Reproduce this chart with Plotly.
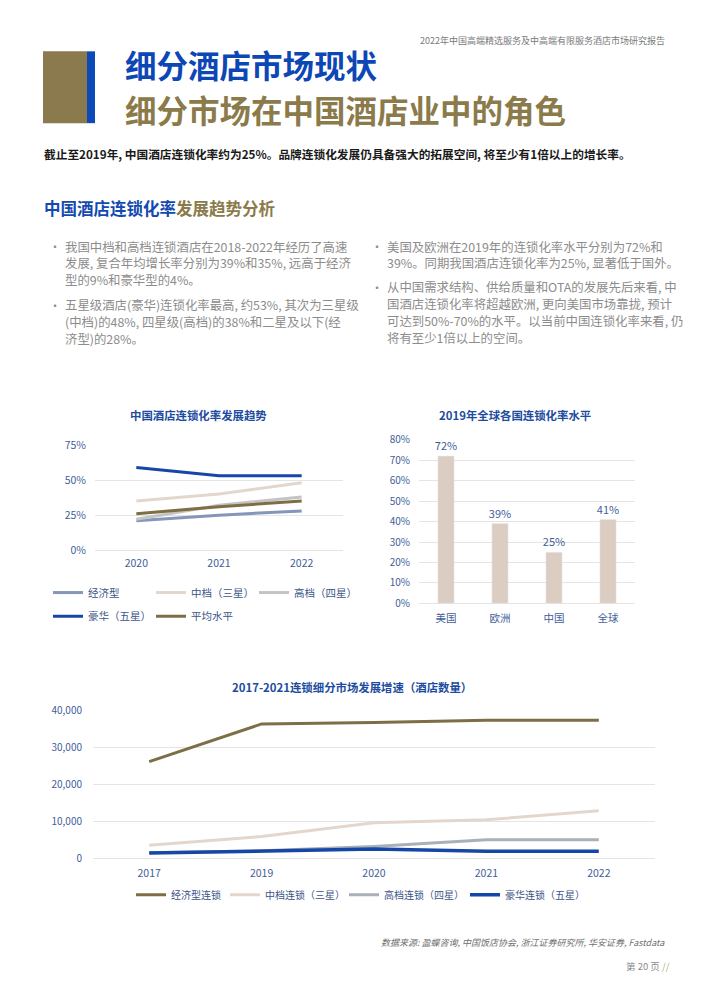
import plotly.graph_objects as go

W, H = 710, 1004


def px(x):
    return x / W


def py(y):
    return 1 - y / H


FONT = "Noto Sans CJK SC"

# ---------------- data ----------------
# Chart 1: 中国酒店连锁化率发展趋势 (%)
years1 = ["2020", "2021", "2022"]
econ1 = [21, 25, 28]
mid1 = [35, 40, 48]
upper1 = [22, 32, 38]
luxury1 = [59, 53, 53]
avg1 = [26, 31, 35]
names1 = ["经济型", "中档（三星）", "高档（四星）", "豪华（五星）", "平均水平"]
ticks1 = [0, 25, 50, 75]

# Chart 2: 2019年全球各国连锁化率水平 (%)
countries = ["美国", "欧洲", "中国", "全球"]
rates2019 = [72, 39, 25, 41]
ticks2 = [0, 10, 20, 30, 40, 50, 60, 70, 80]

# Chart 3: 2017-2021连锁细分市场发展增速（酒店数量）
years3 = ["2017", "2019", "2020", "2021", "2022"]
econ3 = [26200, 36400, 36800, 37400, 37400]
mid3 = [3500, 5900, 9600, 10400, 12900]
upper3 = [1500, 2000, 3200, 5000, 5000]
luxury3 = [1400, 1900, 2500, 1900, 1900]
names3 = ["经济型连锁", "中档连锁（三星）", "高档连锁（四星）", "豪华连锁（五星）"]
ticks3 = [0, 10000, 20000, 30000, 40000]

# ---------------- styles ----------------
GOLD = "#7d6e46"
BLUE = "#1747a6"
STEEL = "#8497b8"
BEIGE = "#e3d7cd"
GREY = "#c4c4c4"
GREY3 = "#a9b0b9"
BAR = "#dccdc2"
TICK = "#41609a"
CTITLE = "#1d4c9f"
LEG = "#3c5488"

fig = go.Figure()

# Chart 1 traces
series1 = [econ1, mid1, upper1, luxury1, avg1]
colors1 = [STEEL, BEIGE, GREY, BLUE, GOLD]
legends1 = ["legend", "legend", "legend", "legend2", "legend2"]
for vals, nm, col, lg in zip(series1, names1, colors1, legends1):
    fig.add_trace(go.Scatter(
        x=years1, y=vals, name=nm, mode="lines",
        line=dict(color=col, width=3), xaxis="x", yaxis="y",
        legend=lg, legendwidth=58, hoverinfo="skip"))

# Chart 2 bars
fig.add_trace(go.Bar(
    x=countries, y=rates2019, marker_color=BAR, width=0.3,
    texttemplate="%{y}%", textposition="outside", cliponaxis=False,
    constraintext="none",
    textfont=dict(color=TICK, size=11, family=FONT),
    xaxis="x2", yaxis="y2", showlegend=False, hoverinfo="skip"))

# Chart 3 traces
series3 = [econ3, mid3, upper3, luxury3]
colors3 = [GOLD, BEIGE, GREY3, BLUE]
widths3 = [3, 3, 3, 3.5]
lw3 = [49, 74, 76, 80]
for vals, nm, col, wd, lw in zip(series3, names3, colors3, widths3, lw3):
    fig.add_trace(go.Scatter(
        x=years3, y=vals, name=nm, mode="lines",
        line=dict(color=col, width=wd), xaxis="x3", yaxis="y3",
        legend="legend3", legendwidth=lw, hoverinfo="skip"))

grid = "#e4e4e4"
common_y = dict(showgrid=True, gridcolor=grid, gridwidth=1, zeroline=True,
                zerolinecolor=grid, zerolinewidth=1, showline=False, ticks="",
                fixedrange=True)
common_x = dict(showgrid=False, zeroline=False, showline=False, ticks="",
                type="category", fixedrange=True)

fig.update_layout(
    width=W, height=H,
    margin=dict(l=0, r=0, t=0, b=0),
    paper_bgcolor="white", plot_bgcolor="white",
    font=dict(family=FONT, color=TICK),
    xaxis=dict(common_x, domain=[px(95), px(343)], anchor="y", range=[-0.5, 2.5],
               tickfont=dict(size=10.5, color=TICK), ticklabelstandoff=5),
    yaxis=dict(common_y, domain=[py(550), py(443)], anchor="x", range=[0, 75],
               tickmode="array", tickvals=ticks1,
               ticktext=[f"{v}%" for v in ticks1],
               tickfont=dict(size=10.5, color=TICK), ticklabelstandoff=8),
    xaxis2=dict(common_x, domain=[px(419), px(635)], anchor="y2", range=[-0.5, 3.5],
                tickfont=dict(size=10.5, color=TICK), ticklabelstandoff=7),
    yaxis2=dict(common_y, domain=[py(604), py(437.7)], anchor="x2", range=[0, 80],
                tickmode="array", tickvals=ticks2,
                ticktext=[f"{v}%" for v in ticks2],
                tickfont=dict(size=10, color=TICK), ticklabelstandoff=8),
    xaxis3=dict(common_x, domain=[px(93), px(655)], anchor="y3", range=[-0.5, 4.5],
                tickfont=dict(size=10.5, color=TICK), ticklabelstandoff=7),
    yaxis3=dict(common_y, domain=[py(863), py(713)], anchor="x3", range=[0, 40000],
                tickmode="array", tickvals=ticks3,
                ticktext=[f"{v:,}" for v in ticks3],
                tickfont=dict(size=10, color=TICK), ticklabelstandoff=10),
    bargap=0.7,
)

leg_common = dict(orientation="h", xanchor="left", yanchor="middle",
                  bgcolor="rgba(0,0,0,0)", borderwidth=0, itemwidth=30,
                  tracegroupgap=0, font=dict(size=10.5, color=LEG, family=FONT),
                  itemclick=False, itemdoubleclick=False)
fig.update_layout(
    legend=dict(leg_common, x=px(48), y=py(593)),
    legend2=dict(leg_common, x=px(48), y=py(617)),
    legend3=dict(leg_common, x=px(131), y=py(900),
                 font=dict(size=10, color=LEG, family=FONT)),
)

# ---------------- decorative shapes ----------------
fig.add_shape(type="rect", xref="paper", yref="paper",
              x0=px(43), x1=px(87), y0=py(116), y1=py(43),
              fillcolor="#8a7a4d", line=dict(width=0))
fig.add_shape(type="rect", xref="paper", yref="paper",
              x0=px(87), x1=px(95), y0=py(116), y1=py(43),
              fillcolor="#0b4ab8", line=dict(width=0))


def note(x, y, text, size, color, anchor="left", **kw):
    fig.add_annotation(x=px(x), y=py(y), xref="paper", yref="paper",
                       text=text, showarrow=False, xanchor=anchor,
                       yanchor="middle",
                       font=dict(size=size, color=color, family=FONT), **kw)


# header
note(667, 32, "2022年中国高端精选服务及中高端有限服务酒店市场研究报告", 9, "#7a7a7a", "right")
note(123, 56, "<b>细分酒店市场现状</b>", 31.5, "#0d47b5")
note(123, 102, "<b>细分市场在中国酒店业中的角色</b>", 31.5, "#8b7a4a")
note(42, 147, "<b>截止至2019年, 中国酒店连锁化率约为25%。品牌连锁化发展仍具备强大的拓展空间, 将至少有1倍以上的增长率。</b>",
     11.7, "#1a1a1a")

note(42, 202, "<b><span style='color:#1349b0'>中国酒店连锁化率</span>"
     "<span style='color:#8b7a4a'>发展趋势分析</span></b>", 16.5, "#1349b0")

TXT = "#8c8c8c"
left_lines = [
    (241.5, "我国中档和高档连锁酒店在2018-2022年经历了高速"),
    (258.5, "发展, 复合年均增长率分别为39%和35%, 远高于经济"),
    (275.5, "型的9%和豪华型的4%。"),
    (301, "五星级酒店(豪华)连锁化率最高, 约53%, 其次为三星级"),
    (318, "(中档)的48%, 四星级(高档)的38%和二星及以下(经"),
    (335, "济型)的28%。"),
]
for y, t in left_lines:
    note(63, y, t, 12.4, TXT)
note(47, 241.5, "·", 12, TXT)
note(47, 301, "·", 12, TXT)

right_lines = [
    (241.5, "美国及欧洲在2019年的连锁化率水平分别为72%和"),
    (258.5, "39%。同期我国酒店连锁化率为25%, 显著低于国外。"),
    (283, "从中国需求结构、供给质量和OTA的发展先后来看, 中"),
    (300, "国酒店连锁化率将超越欧洲, 更向美国市场靠拢, 预计"),
    (317, "可达到50%-70%的水平。以当前中国连锁化率来看, 仍"),
    (334, "将有至少1倍以上的空间。"),
]
for y, t in right_lines:
    note(385, y, t, 12.4, TXT)
note(369, 241.5, "·", 12, TXT)
note(369, 283, "·", 12, TXT)

# chart titles
note(198.5, 413, "<b>中国酒店连锁化率发展趋势</b>", 11.4, CTITLE, "center")
note(515, 413, "<b>2019年全球各国连锁化率水平</b>", 11.4, CTITLE, "center")
note(352, 689, "<b>2017-2021连锁细分市场发展增速（酒店数量）</b>", 11.4, CTITLE, "center")

# footer
note(667, 949, "<i>数据来源: 盈蝶咨询, 中国饭店协会, 浙江证券研究所, 华安证券, Fastdata</i>", 9, "#6f6f6f", "right")
note(672, 973, "第 20 页 <span style='color:#b8a978'>//</span>", 9.5, "#8a8a8a", "right")

page_fix = (
    "document.documentElement.style.margin='0px';"
    "document.documentElement.style.padding='0px';"
    "document.body.style.margin='0px';"
    "document.body.style.padding='0px';"
    "var gd=document.getElementById('{plot_id}');"
    "gd.style.position='fixed';gd.style.left='0px';gd.style.top='0px';"
)
fig.write_html("out.html", config={"displayModeBar": False}, post_script=page_fix)
